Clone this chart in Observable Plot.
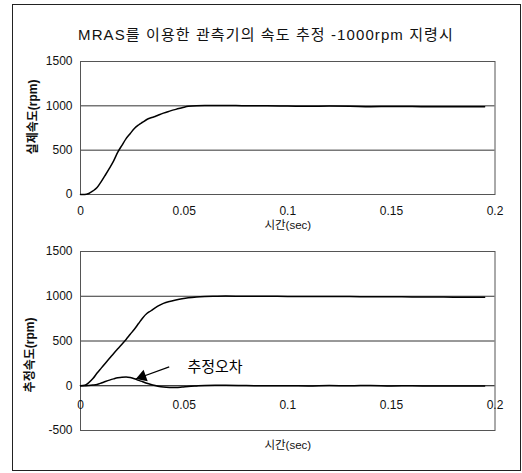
<!DOCTYPE html>
<html><head><meta charset="utf-8">
<script src="https://cdn.jsdelivr.net/npm/d3@7"></script>
<script src="https://cdn.jsdelivr.net/npm/@observablehq/plot@0.6"></script>
<style>
html,body{margin:0;padding:0;background:#fff;}
#wrap{position:relative;width:522px;height:473px;overflow:hidden;font-family:"Liberation Sans","Noto Sans CJK KR",sans-serif;}
#border{position:absolute;left:12px;top:4px;width:507px;height:465px;border:1.5px solid #222;pointer-events:none;}
#title{position:absolute;left:0;top:23px;width:532px;text-align:center;font-size:15px;letter-spacing:1.1px;color:#111;white-space:nowrap;}
#top{position:absolute;left:0;top:45px;}
#bot{position:absolute;left:0;top:240px;}
</style></head>
<body><div id="wrap"><div id="top"></div><div id="bot"></div><div id="title"></div><div id="border"></div></div>
<script>
const FONT = '"Liberation Sans","Noto Sans CJK KR",sans-serif';
const titleText = "MRAS를 이용한 관측기의 속도 추정 -1000rpm 지령시";
const yLabelTop = "실제속도(rpm)";
const yLabelBot = "추정속도(rpm)";
const xLabel = "시간(sec)";
const xTicks = [0, 0.05, 0.1, 0.15, 0.2];
const xTickLabels = ["0", "0.05", "0.1", "0.15", "0.2"];
const yTicksTop = [0, 500, 1000, 1500];
const yTicksBot = [-500, 0, 500, 1000, 1500];
const gridTop = [500, 1000];
const gridBot = [500, 1000];

const tSec = [0, 0.002, 0.004, 0.006, 0.008, 0.010, 0.012, 0.014, 0.016, 0.018, 0.020, 0.022, 0.024, 0.026, 0.028, 0.030, 0.032, 0.034, 0.036, 0.038, 0.040,
  0.043, 0.046, 0.049, 0.052, 0.056, 0.060, 0.065, 0.070,
  0.080, 0.090, 0.100, 0.110, 0.120, 0.130, 0.140, 0.150, 0.160, 0.170, 0.180, 0.190, 0.195];
const actualRpm = [0, 0, 12, 40, 78, 145, 220, 298, 380, 478, 555, 630, 688, 745, 784, 815, 846, 865, 880, 900, 918,
  940, 960, 978, 996, 1002, 1003, 1003, 1005,
  1000, 1000, 998, 995, 998, 996, 990, 993, 992, 990, 990, 990, 990];
const estimatedRpm = [0, 5, 35, 80, 142, 197, 252, 306, 361, 413, 464, 517, 575, 632, 695, 758, 807, 838, 870, 898, 920,
  942, 958, 972, 983, 992, 997, 1000, 1002,
  1000, 1000, 998, 998, 997, 996, 995, 994, 993, 992, 990, 988, 988];
const errorRpm = [0, 0, 3, 8, 15, 30, 47, 63, 77, 89, 96, 97, 91, 78, 60, 45, 28, 14, 2, -9, -15,
  -19, -20, -15, -8, -2, 3, 5, 5,
  2, 0, 0, -2, 2, 0, 4, -2, 0, -3, -2, -3, -3];

const annotText = [{t: 0.0516, v: 211, label: "추정오차"}];
const annotArrow = [{t1: 0.0428, v1: 211, t2: 0.0267, v2: 75}];

document.getElementById("title").textContent = titleText;

const fmtX = d => xTickLabels[xTicks.indexOf(d)];
const fmtY = d => String(d);
const styleBase = {fontFamily: FONT, fontSize: "12px", color: "#111", background: "transparent", overflow: "visible"};

const topPlot = Plot.plot({
  width: 522, height: 200,
  marginLeft: 80, marginRight: 27.5, marginTop: 16, marginBottom: 51,
  x: {domain: [0, 0.2], axis: null},
  y: {domain: [0, 1500], axis: null},
  style: styleBase,
  marks: [
    Plot.ruleY(gridTop, {stroke: "#333", strokeWidth: 1}),
    Plot.frame({stroke: "#555"}),
    Plot.line(tSec, {x: d => d, y: (d, i) => actualRpm[i], stroke: "#000", strokeWidth: 1.5, curve: "monotone-x"}),
    Plot.axisY(yTicksTop, {tickSize: 0, tickPadding: 8, tickFormat: fmtY, label: null, fontSize: 12}),
    Plot.axisX(xTicks, {tickSize: 0, tickPadding: 12, tickFormat: fmtX, label: null, fontSize: 12}),
    Plot.text([yLabelTop], {frameAnchor: "left", textAnchor: "middle", rotate: -90, dx: -47, dy: -11, fontSize: 12, letterSpacing: "1px", fontWeight: "bold"}),
    Plot.text([xLabel], {frameAnchor: "bottom", dy: 34, fontSize: 11.5, letterSpacing: "0.5px"})
  ]
});
document.getElementById("top").appendChild(topPlot);

const botPlot = Plot.plot({
  width: 522, height: 225,
  marginLeft: 80, marginRight: 27.5, marginTop: 11, marginBottom: 35,
  x: {domain: [0, 0.2], axis: null},
  y: {domain: [-500, 1500], axis: null},
  style: styleBase,
  marks: [
    Plot.ruleY(gridBot, {stroke: "#333", strokeWidth: 1}),
    Plot.frame({stroke: "#555"}),
    Plot.ruleY([0], {stroke: "#000", strokeWidth: 1.2}),
    Plot.line(tSec, {x: d => d, y: (d, i) => estimatedRpm[i], stroke: "#000", strokeWidth: 1.5, curve: "monotone-x"}),
    Plot.line(tSec, {x: d => d, y: (d, i) => errorRpm[i], stroke: "#000", strokeWidth: 1.5, curve: "monotone-x"}),
    Plot.link(annotArrow, {x1: "t1", y1: "v1", x2: "t2", y2: "v2", stroke: "#000", strokeWidth: 1.2}),
    Plot.dot(annotArrow, {x: "t2", y: "v2", symbol: "triangle", r: 4.5, rotate: 250, fill: "#000", stroke: "none", dx: 6.5, dy: -2.4}),
    Plot.text(annotText, {x: "t", y: "v", text: "label", textAnchor: "start", fontSize: 15, letterSpacing: "1px", fill: "#000"}),
    Plot.axisY(yTicksBot, {tickSize: 0, tickPadding: 8, tickFormat: fmtY, label: null, fontSize: 12}),
    Plot.text(xTicks, {x: d => d, y: () => 0, dy: 19, text: fmtX, fontSize: 12}),
    Plot.text([yLabelBot], {frameAnchor: "left", textAnchor: "middle", rotate: -90, dx: -50, dy: 14, fontSize: 12, letterSpacing: "1px", fontWeight: "bold"}),
    Plot.text([xLabel], {frameAnchor: "bottom", dy: 18, fontSize: 11.5, letterSpacing: "0.5px"})
  ]
});
document.getElementById("bot").appendChild(botPlot);
</script>
</body></html>
